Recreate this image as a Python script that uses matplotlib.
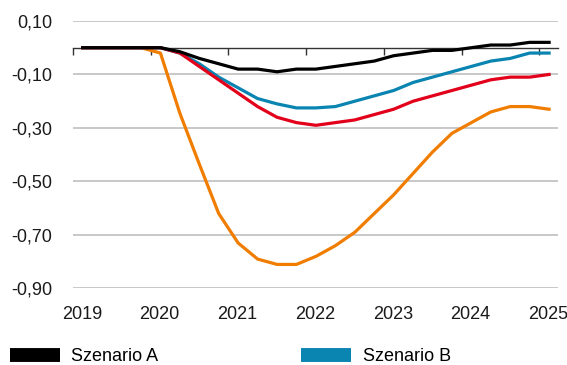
import matplotlib
matplotlib.use("Agg")
import matplotlib.pyplot as plt
import matplotlib.transforms as mtransforms
import numpy as np

plt.rcParams['font.family'] = ['Liberation Sans Narrow', 'Liberation Sans', 'DejaVu Sans']

# Quartalswerte 2019Q1 .. 2025Q1
quarters = 2019.125 + np.arange(25) * 0.25

szenario_a = [0, 0, 0, 0, 0, -0.015, -0.04, -0.06, -0.08, -0.08, -0.09, -0.08, -0.08,
              -0.07, -0.06, -0.05, -0.03, -0.02, -0.01, -0.01, 0.0, 0.01, 0.01, 0.02, 0.02]
szenario_b = [0, 0, 0, 0, 0, -0.02, -0.06, -0.11, -0.15, -0.19, -0.21, -0.225, -0.225,
              -0.22, -0.20, -0.18, -0.16, -0.13, -0.11, -0.09, -0.07, -0.05, -0.04, -0.02, -0.02]
szenario_c = [0, 0, 0, 0, 0, -0.02, -0.07, -0.12, -0.17, -0.22, -0.26, -0.28, -0.29,
              -0.28, -0.27, -0.25, -0.23, -0.20, -0.18, -0.16, -0.14, -0.12, -0.11, -0.11, -0.10]
szenario_d = [0, 0, 0, 0, -0.02, -0.245, -0.435, -0.62, -0.73, -0.79, -0.81, -0.81, -0.78,
              -0.74, -0.69, -0.62, -0.55, -0.47, -0.39, -0.32, -0.28, -0.24, -0.22, -0.22, -0.23]

years = [2019, 2020, 2021, 2022, 2023, 2024, 2025]
year_labels = [str(y) for y in years]
yticks = [0.10, -0.10, -0.30, -0.50, -0.70, -0.90]
ytick_labels = ["0,10", "-0,10", "-0,30", "-0,50", "-0,70", "-0,90"]

colors = {"A": "#000000", "B": "#0a84b0", "C": "#e2001a", "D": "#f07d00"}

fig = plt.figure(figsize=(5.67, 3.65), dpi=100)
ax = fig.add_axes([0.1287, 0.2096, 0.8555, 0.733])

ax.plot(quarters, szenario_a, color=colors["A"], lw=2.3, zorder=5, label="Szenario A")
ax.plot(quarters, szenario_b, color=colors["B"], lw=2.3, zorder=4, label="Szenario B")
ax.plot(quarters, szenario_c, color=colors["C"], lw=2.3, zorder=4)
ax.plot(quarters, szenario_d, color=colors["D"], lw=2.3, zorder=3)

ax.set_xlim(2019.0, 2025.24)
ax.set_ylim(-0.90, 0.10)

# Gitternetz
ax.set_yticks(yticks)
ax.set_yticklabels(ytick_labels)
ax.yaxis.grid(True, color="#c4c4c4", lw=1.3)
ax.set_axisbelow(True)
ax.tick_params(axis="y", length=0, pad=15, labelsize=13, labelcolor="#1a1a1a")

for s in ["top", "right", "left"]:
    ax.spines[s].set_visible(False)
ax.spines["bottom"].set_position(("data", 0))
ax.spines["bottom"].set_color("#333333")
ax.spines["bottom"].set_linewidth(1.0)
ax.spines["bottom"].set_zorder(2)

ax.set_xticks(years)
ax.tick_params(axis="x", direction="out", length=5, width=1.0, color="#333333",
               labelbottom=False)

# Jahreszahlen unten, unter dem ersten Quartal
trans = mtransforms.blended_transform_factory(ax.transData, ax.transAxes)
for y, lab in zip(years, year_labels):
    ax.text(y + 0.115, -0.065, lab, transform=trans, ha="center", va="top",
            fontsize=13, color="#1a1a1a")

# Legende (unten abgeschnitten)
fig.legend(loc="upper left", bbox_to_anchor=(0.0176, 0.047), ncol=2, frameon=False,
           fontsize=13, handlelength=2.75, columnspacing=7.9, borderpad=0,
           handletextpad=0.65, borderaxespad=0)
for line in fig.legends[0].get_lines():
    line.set_linewidth(10)
    line.set_solid_capstyle("butt")

fig.savefig("out.png", dpi=100)
